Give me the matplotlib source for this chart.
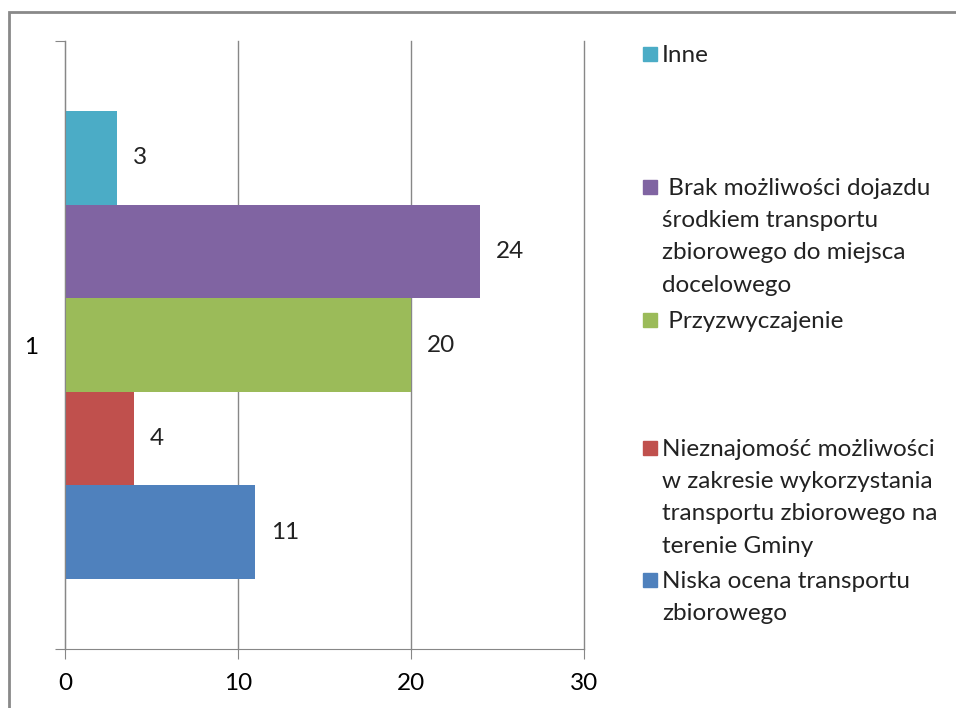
import matplotlib.pyplot as plt
from matplotlib.patches import Rectangle

plt.rcParams['font.family'] = ['Lato', 'DejaVu Sans']

# bottom to top, as drawn
labels = [
    "Niska ocena transportu\nzbiorowego",
    "Nieznajomość możliwości\nw zakresie wykorzystania\ntransportu zbiorowego na\nterenie Gminy",
    " Przyzwyczajenie",
    " Brak możliwości dojazdu\nśrodkiem transportu\nzbiorowego do miejsca\ndocelowego",
    "Inne",
]
values = [11, 4, 20, 24, 3]
colors = ['#4F81BD', '#C0504D', '#9BBB59', '#8064A2', '#4BACC6']
# legend entry rows (pixel y of first line, from top)
legend_y = [580, 448, 320, 187, 54]

W, H = 956, 708
fs = 17.5
fig = plt.figure(figsize=(W / 100, H / 100), dpi=100)
ax = fig.add_axes([65 / W, 1 - 649 / H, (584 - 65) / W, (649 - 41) / H])

h = 0.1538
for i, (v, c) in enumerate(zip(values, colors)):
    y = 1 + (i - 2) * h
    ax.barh(y, v, height=h, color=c)
    ax.text(v + 0.9, y, str(v), va='center', ha='left', fontsize=fs, color='#222222')

ax.set_xlim(0, 30)
ax.set_ylim(0.5, 1.5)
ax.set_xticks([0, 10, 20, 30])
ax.set_yticks([0.5, 1.5])
ax.set_yticklabels([])
ax.set_yticks([1], minor=True)
ax.set_yticklabels(['1'], minor=True)
ax.tick_params(axis='y', which='minor', length=0, pad=19, labelsize=fs)
ax.tick_params(axis='y', which='major', length=7, color='#878787')
ax.tick_params(axis='x', length=7, color='#878787', labelsize=fs, pad=10)
ax.grid(axis='x', color='#878787', linewidth=1)
for gl in ax.get_xgridlines():
    gl.set_clip_on(False)
ax.set_axisbelow(True)
for s in ['top', 'right']:
    ax.spines[s].set_visible(False)
for s in ['left', 'bottom']:
    ax.spines[s].set_color('#878787')

for lab, c, py in zip(labels, colors, legend_y):
    fig.patches.append(Rectangle((643 / W, 1 - (py + 7) / H), 14 / W, 14 / H,
                                 transform=fig.transFigure, color=c))
    fig.text(662 / W, 1 - (py - 9) / H, lab, va='top', ha='left', fontsize=fs,
             linespacing=1.66, color='#222222')

fig.patches.append(Rectangle((9 / W, 1 - 12 / H - 2), 2, 2, transform=fig.transFigure,
                             fill=False, edgecolor='#898989', linewidth=2))

fig.savefig('out.png', dpi=100)
